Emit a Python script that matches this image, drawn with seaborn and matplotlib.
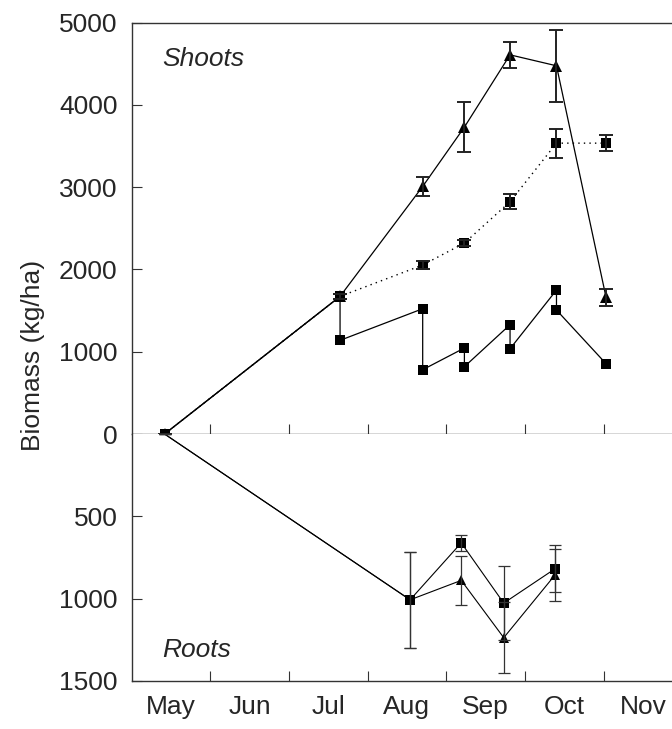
import numpy as np
import pandas as pd
import matplotlib
matplotlib.use("Agg")
import matplotlib.pyplot as plt
import seaborn as sns

# months counted from 1 May (one unit per month)
month_labels = ['May', 'Jun', 'Jul', 'Aug', 'Sep', 'Oct', 'Nov']

# shoots - triangles, solid line
shoot_tri_month = [0.42, 2.65, 3.70, 4.23, 4.81, 5.40, 6.03]
shoot_tri = [0, 1672, 3008, 3729, 4607, 4474, 1660]
shoot_tri_err = [0, 30, 115, 300, 160, 435, 100]

# shoots - squares, dotted line
shoot_dot_month = [0.42, 2.65, 3.70, 4.23, 4.81, 5.40, 6.03]
shoot_dot = [0, 1672, 2053, 2320, 2822, 3534, 3534]
shoot_dot_err = [0, 30, 45, 35, 90, 175, 100]

# shoots - squares, solid zigzag
shoot_sq_month = [0.42, 2.65, 2.65, 3.70, 3.70, 4.23, 4.23, 4.81, 4.81, 5.40, 5.40, 6.03]
shoot_sq = [0, 1672, 1138, 1522, 781, 1045, 818, 1328, 1036, 1749, 1506, 854]

# roots
root_month = [0.42, 3.54, 4.19, 4.73, 5.38]
root_sq = [0, 1007, 661, 1027, 819]
root_sq_err = [0, 290, 50, 227, 142]
root_tri = [0, 1007, 889, 1237, 857]
root_tri_err = [0, 290, 150, 216, 156]

sns.set_style("ticks")
plt.rcParams['font.family'] = ['Liberation Sans', 'DejaVu Sans']
plt.rcParams['font.size'] = 19

fig = plt.figure(figsize=(6.72, 7.29), dpi=100)
W, H = 672, 729
left = 131.5 / W
ax1 = fig.add_axes([left, (H - 434) / H, 1 - left, (434 - 22.5) / H])
ax2 = fig.add_axes([left, (H - 681) / H, 1 - left, (681 - 434) / H])

k = '#000000'
spine_c = '#333333'

df_tri = pd.DataFrame({'month': shoot_tri_month, 'biomass': shoot_tri})
df_dot = pd.DataFrame({'month': shoot_dot_month, 'biomass': shoot_dot})
df_sq = pd.DataFrame({'month': shoot_sq_month, 'biomass': shoot_sq})

sns.lineplot(data=df_sq, x='month', y='biomass', sort=False, estimator=None,
             color=k, lw=0.9, marker='s', markersize=6.5, markeredgewidth=0, ax=ax1)
sns.lineplot(data=df_dot, x='month', y='biomass', sort=False, estimator=None,
             color=k, lw=1.0, linestyle=(0, (1, 3)), marker='s', markersize=6.5,
             markeredgewidth=0, ax=ax1)
sns.lineplot(data=df_tri, x='month', y='biomass', sort=False, estimator=None,
             color=k, lw=0.9, marker='^', markersize=8, markeredgewidth=0, ax=ax1)
ax1.errorbar(shoot_tri_month, shoot_tri, yerr=shoot_tri_err, fmt='none',
             ecolor='#222222', elinewidth=1.4, capsize=5, capthick=1.4)
ax1.errorbar(shoot_dot_month, shoot_dot, yerr=shoot_dot_err, fmt='none',
             ecolor='#222222', elinewidth=1.4, capsize=5, capthick=1.4)

df_rsq = pd.DataFrame({'month': root_month, 'biomass': root_sq})
df_rtri = pd.DataFrame({'month': root_month, 'biomass': root_tri})
skip_first = list(range(1, len(root_month)))
sns.lineplot(data=df_rsq, x='month', y='biomass', sort=False, estimator=None,
             color=k, lw=0.8, marker='s', markersize=6.5, markeredgewidth=0,
             markevery=skip_first, ax=ax2)
sns.lineplot(data=df_rtri, x='month', y='biomass', sort=False, estimator=None,
             color=k, lw=0.8, marker='^', markersize=7.5, markeredgewidth=0,
             markevery=skip_first, ax=ax2)
ax2.errorbar(root_month, root_sq, yerr=root_sq_err, fmt='none',
             ecolor='#333333', elinewidth=0.9, capsize=4.5, capthick=0.9)
ax2.errorbar(root_month, root_tri, yerr=root_tri_err, fmt='none',
             ecolor='#333333', elinewidth=0.9, capsize=4.5, capthick=0.9)

xmax = (W - 131.5) / 78.7
for ax in (ax1, ax2):
    ax.set_xlim(0, xmax)
    ax.set_xlabel('')
    ax.set_ylabel('')
    ax.spines['right'].set_visible(False)
    for s in ('left', 'top', 'bottom'):
        ax.spines[s].set_color(spine_c)
        ax.spines[s].set_linewidth(1.0)
    ax.set_xticks(np.arange(1, 7))
    ax.set_xticklabels([])
    ax.tick_params(axis='both', which='major', direction='in', length=7,
                   width=0.8, color=spine_c, labelsize=19, pad=10)

ax1.set_ylim(0, 5000)
ax1.set_yticks([0, 1000, 2000, 3000, 4000, 5000])
ax1.tick_params(axis='x', which='both', bottom=True, labelbottom=False)

ax2.set_ylim(1500, 0)
ax2.set_yticks([500, 1000, 1500])
ax2.spines['top'].set_visible(False)
ax2.set_xticks(np.arange(len(month_labels)) + 0.5, minor=True)
ax2.set_xticklabels(month_labels, minor=True)
ax2.tick_params(axis='x', which='minor', length=0, labelsize=19, pad=10)

ax1.text(0.056, 0.911, 'Shoots', transform=ax1.transAxes, style='italic',
         fontsize=19, ha='left', va='center')
ax2.text(0.056, 0.126, 'Roots', transform=ax2.transAxes, style='italic',
         fontsize=19, ha='left', va='center')

fig.text(33 / W, 1 - 355 / H, 'Biomass (kg/ha)', rotation=90,
         ha='center', va='center', fontsize=19)

fig.savefig('out.png', dpi=100)
